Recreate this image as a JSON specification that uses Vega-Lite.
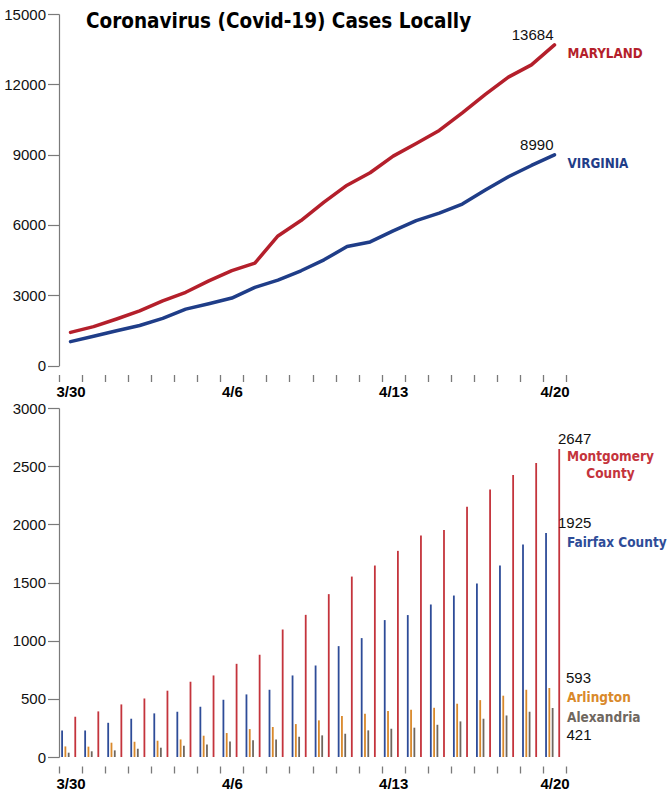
{
  "$schema": "https://vega.github.io/schema/vega-lite/v6.json",
  "background": "white",
  "padding": {"left": 3, "top": 7, "right": 0, "bottom": 0},
  "spacing": 42,
  "bounds": "flush",
  "resolve": {"scale": {"color": "independent"}},
  "config": {
    "view": {"stroke": null},
    "font": "Liberation Sans",
    "axis": {"domainColor": "#7a7a7a", "tickColor": "#7a7a7a", "labelColor": "#111111", "grid": false}
  },
  "datasets": {
    "states": [
      {"date": "3/30", "state": "Maryland", "cases": 1413}, {"date": "3/31", "state": "Maryland", "cases": 1660},
      {"date": "4/1", "state": "Maryland", "cases": 1985}, {"date": "4/2", "state": "Maryland", "cases": 2331},
      {"date": "4/3", "state": "Maryland", "cases": 2758}, {"date": "4/4", "state": "Maryland", "cases": 3125},
      {"date": "4/5", "state": "Maryland", "cases": 3609}, {"date": "4/6", "state": "Maryland", "cases": 4045},
      {"date": "4/7", "state": "Maryland", "cases": 4371}, {"date": "4/8", "state": "Maryland", "cases": 5529},
      {"date": "4/9", "state": "Maryland", "cases": 6185}, {"date": "4/10", "state": "Maryland", "cases": 6968},
      {"date": "4/11", "state": "Maryland", "cases": 7694}, {"date": "4/12", "state": "Maryland", "cases": 8225},
      {"date": "4/13", "state": "Maryland", "cases": 8936}, {"date": "4/14", "state": "Maryland", "cases": 9472},
      {"date": "4/15", "state": "Maryland", "cases": 10032}, {"date": "4/16", "state": "Maryland", "cases": 10784},
      {"date": "4/17", "state": "Maryland", "cases": 11572}, {"date": "4/18", "state": "Maryland", "cases": 12308},
      {"date": "4/19", "state": "Maryland", "cases": 12830}, {"date": "4/20", "state": "Maryland", "cases": 13684},
      {"date": "3/30", "state": "Virginia", "cases": 1020}, {"date": "3/31", "state": "Virginia", "cases": 1250},
      {"date": "4/1", "state": "Virginia", "cases": 1484}, {"date": "4/2", "state": "Virginia", "cases": 1706},
      {"date": "4/3", "state": "Virginia", "cases": 2012}, {"date": "4/4", "state": "Virginia", "cases": 2407},
      {"date": "4/5", "state": "Virginia", "cases": 2637}, {"date": "4/6", "state": "Virginia", "cases": 2878},
      {"date": "4/7", "state": "Virginia", "cases": 3333}, {"date": "4/8", "state": "Virginia", "cases": 3645},
      {"date": "4/9", "state": "Virginia", "cases": 4042}, {"date": "4/10", "state": "Virginia", "cases": 4509},
      {"date": "4/11", "state": "Virginia", "cases": 5077}, {"date": "4/12", "state": "Virginia", "cases": 5274},
      {"date": "4/13", "state": "Virginia", "cases": 5747}, {"date": "4/14", "state": "Virginia", "cases": 6182},
      {"date": "4/15", "state": "Virginia", "cases": 6500}, {"date": "4/16", "state": "Virginia", "cases": 6889},
      {"date": "4/17", "state": "Virginia", "cases": 7491}, {"date": "4/18", "state": "Virginia", "cases": 8053},
      {"date": "4/19", "state": "Virginia", "cases": 8537}, {"date": "4/20", "state": "Virginia", "cases": 8990}
    ],
    "stateLabels": [
      {"date": "4/20", "state": "Maryland", "cases": 13684, "label": "MARYLAND"},
      {"date": "4/20", "state": "Virginia", "cases": 8990, "label": "VIRGINIA"}
    ],
    "counties": [
      {"date": "3/30", "county": "Fairfax County", "cases": 228}, {"date": "3/30", "county": "Arlington", "cases": 91}, {"date": "3/30", "county": "Alexandria", "cases": 37}, {"date": "3/30", "county": "Montgomery County", "cases": 346},
      {"date": "3/31", "county": "Fairfax County", "cases": 228}, {"date": "3/31", "county": "Arlington", "cases": 89}, {"date": "3/31", "county": "Alexandria", "cases": 49}, {"date": "3/31", "county": "Montgomery County", "cases": 392},
      {"date": "4/1", "county": "Fairfax County", "cases": 294}, {"date": "4/1", "county": "Arlington", "cases": 123}, {"date": "4/1", "county": "Alexandria", "cases": 57}, {"date": "4/1", "county": "Montgomery County", "cases": 452},
      {"date": "4/2", "county": "Fairfax County", "cases": 329}, {"date": "4/2", "county": "Arlington", "cases": 131}, {"date": "4/2", "county": "Alexandria", "cases": 71}, {"date": "4/2", "county": "Montgomery County", "cases": 503},
      {"date": "4/3", "county": "Fairfax County", "cases": 375}, {"date": "4/3", "county": "Arlington", "cases": 140}, {"date": "4/3", "county": "Alexandria", "cases": 80}, {"date": "4/3", "county": "Montgomery County", "cases": 570},
      {"date": "4/4", "county": "Fairfax County", "cases": 389}, {"date": "4/4", "county": "Arlington", "cases": 151}, {"date": "4/4", "county": "Alexandria", "cases": 97}, {"date": "4/4", "county": "Montgomery County", "cases": 647},
      {"date": "4/5", "county": "Fairfax County", "cases": 432}, {"date": "4/5", "county": "Arlington", "cases": 183}, {"date": "4/5", "county": "Alexandria", "cases": 108}, {"date": "4/5", "county": "Montgomery County", "cases": 701},
      {"date": "4/6", "county": "Fairfax County", "cases": 492}, {"date": "4/6", "county": "Arlington", "cases": 206}, {"date": "4/6", "county": "Alexandria", "cases": 134}, {"date": "4/6", "county": "Montgomery County", "cases": 801},
      {"date": "4/7", "county": "Fairfax County", "cases": 538}, {"date": "4/7", "county": "Arlington", "cases": 240}, {"date": "4/7", "county": "Alexandria", "cases": 143}, {"date": "4/7", "county": "Montgomery County", "cases": 879},
      {"date": "4/8", "county": "Fairfax County", "cases": 578}, {"date": "4/8", "county": "Arlington", "cases": 258}, {"date": "4/8", "county": "Alexandria", "cases": 151}, {"date": "4/8", "county": "Montgomery County", "cases": 1096},
      {"date": "4/9", "county": "Fairfax County", "cases": 701}, {"date": "4/9", "county": "Arlington", "cases": 283}, {"date": "4/9", "county": "Alexandria", "cases": 174}, {"date": "4/9", "county": "Montgomery County", "cases": 1222},
      {"date": "4/10", "county": "Fairfax County", "cases": 787}, {"date": "4/10", "county": "Arlington", "cases": 315}, {"date": "4/10", "county": "Alexandria", "cases": 186}, {"date": "4/10", "county": "Montgomery County", "cases": 1400},
      {"date": "4/11", "county": "Fairfax County", "cases": 953}, {"date": "4/11", "county": "Arlington", "cases": 352}, {"date": "4/11", "county": "Alexandria", "cases": 200}, {"date": "4/11", "county": "Montgomery County", "cases": 1551},
      {"date": "4/12", "county": "Fairfax County", "cases": 1022}, {"date": "4/12", "county": "Arlington", "cases": 372}, {"date": "4/12", "county": "Alexandria", "cases": 229}, {"date": "4/12", "county": "Montgomery County", "cases": 1646},
      {"date": "4/13", "county": "Fairfax County", "cases": 1177}, {"date": "4/13", "county": "Arlington", "cases": 395}, {"date": "4/13", "county": "Alexandria", "cases": 243}, {"date": "4/13", "county": "Montgomery County", "cases": 1772},
      {"date": "4/14", "county": "Fairfax County", "cases": 1220}, {"date": "4/14", "county": "Arlington", "cases": 406}, {"date": "4/14", "county": "Alexandria", "cases": 252}, {"date": "4/14", "county": "Montgomery County", "cases": 1903},
      {"date": "4/15", "county": "Fairfax County", "cases": 1311}, {"date": "4/15", "county": "Arlington", "cases": 423}, {"date": "4/15", "county": "Alexandria", "cases": 277}, {"date": "4/15", "county": "Montgomery County", "cases": 1952},
      {"date": "4/16", "county": "Fairfax County", "cases": 1388}, {"date": "4/16", "county": "Arlington", "cases": 458}, {"date": "4/16", "county": "Alexandria", "cases": 306}, {"date": "4/16", "county": "Montgomery County", "cases": 2152},
      {"date": "4/17", "county": "Fairfax County", "cases": 1491}, {"date": "4/17", "county": "Arlington", "cases": 489}, {"date": "4/17", "county": "Alexandria", "cases": 329}, {"date": "4/17", "county": "Montgomery County", "cases": 2299},
      {"date": "4/18", "county": "Fairfax County", "cases": 1646}, {"date": "4/18", "county": "Arlington", "cases": 527}, {"date": "4/18", "county": "Alexandria", "cases": 357}, {"date": "4/18", "county": "Montgomery County", "cases": 2425},
      {"date": "4/19", "county": "Fairfax County", "cases": 1826}, {"date": "4/19", "county": "Arlington", "cases": 578}, {"date": "4/19", "county": "Alexandria", "cases": 389}, {"date": "4/19", "county": "Montgomery County", "cases": 2528},
      {"date": "4/20", "county": "Fairfax County", "cases": 1925}, {"date": "4/20", "county": "Arlington", "cases": 593}, {"date": "4/20", "county": "Alexandria", "cases": 421}, {"date": "4/20", "county": "Montgomery County", "cases": 2647}
    ],
    "countyLabels": [
      {"date": "4/20", "county": "Montgomery County", "cases": 2647, "label": "Montgomery\nCounty"},
      {"date": "4/20", "county": "Fairfax County", "cases": 1925, "label": "Fairfax County"},
      {"date": "4/20", "county": "Arlington", "cases": 593, "label": "Arlington"},
      {"date": "4/20", "county": "Alexandria", "cases": 421, "label": "Alexandria"}
    ]
  },
  "vconcat": [
    {
      "width": 507,
      "height": 351.5,
      "title": {
        "text": "Coronavirus (Covid-19) Cases Locally",
        "anchor": "start",
        "frame": "group",
        "orient": "top",
        "offset": -41.8,
        "dx": 27,
        "baseline": "alphabetic",
        "font": "DejaVu Sans Condensed",
        "fontWeight": "bold",
        "fontSize": 20.5,
        "color": "#000000"
      },
      "layer": [
        {
          "data": {"name": "states"},
          "mark": {"type": "line", "strokeWidth": 3.5, "strokeCap": "round", "strokeJoin": "round"},
          "encoding": {
            "x": {
              "field": "date", "type": "ordinal", "bandPosition": 0.5,
              "scale": {"type": "band", "domain": ["3/30","3/31","4/1","4/2","4/3","4/4","4/5","4/6","4/7","4/8","4/9","4/10","4/11","4/12","4/13","4/14","4/15","4/16","4/17","4/18","4/19","4/20"], "paddingInner": 0, "paddingOuter": 0},
              "axis": {"title": null, "domain": false, "tickBand": "extent", "tickSize": 7, "tickWidth": 1.3, "offset": 9, "labelAngle": 0, "labelOverlap": false, "labelFont": "Liberation Sans", "labelFontWeight": "bold", "labelFontSize": 15, "labelColor": "#000000", "labelPadding": 3, "labelExpr": "indexof(['3/30','4/6','4/13','4/20'], datum.value) >= 0 ? datum.value : ''"}
            },
            "y": {
              "field": "cases", "type": "quantitative",
              "scale": {"domain": [0, 15000], "nice": false},
              "axis": {"title": null, "values": [0, 3000, 6000, 9000, 12000, 15000], "format": "d", "tickSize": 11.5, "tickWidth": 1.2, "domainWidth": 1.2, "labelPadding": 2, "labelFontSize": 15, "labelFlush": false, "labelOverlap": false}
            },
            "color": {"field": "state", "type": "nominal", "scale": {"domain": ["Maryland", "Virginia"], "range": ["#b41f2b", "#1f3d88"]}, "legend": null}
          }
        },
        {
          "data": {"name": "stateLabels"},
          "mark": {"type": "text", "align": "right", "baseline": "alphabetic", "dx": -1, "dy": -4.5, "fontSize": 15, "color": "#111111"},
          "encoding": {
            "x": {"field": "date", "type": "ordinal", "bandPosition": 0.5},
            "y": {"field": "cases", "type": "quantitative"},
            "text": {"field": "cases", "type": "quantitative", "format": "d"}
          }
        },
        {
          "data": {"name": "stateLabels"},
          "mark": {"type": "text", "align": "left", "baseline": "alphabetic", "dx": 13, "dy": 13, "font": "DejaVu Sans Condensed", "fontWeight": "bold", "fontSize": 13.3},
          "encoding": {
            "x": {"field": "date", "type": "ordinal", "bandPosition": 0.5},
            "y": {"field": "cases", "type": "quantitative"},
            "text": {"field": "label", "type": "nominal"},
            "color": {"field": "state", "type": "nominal", "legend": null}
          }
        }
      ]
    },
    {
      "width": 507,
      "height": 349,
      "layer": [
        {
          "data": {"name": "counties"},
          "mark": {"type": "bar", "width": 1.8},
          "encoding": {
            "x": {
              "field": "date", "type": "ordinal",
              "scale": {"type": "band", "domain": ["3/30","3/31","4/1","4/2","4/3","4/4","4/5","4/6","4/7","4/8","4/9","4/10","4/11","4/12","4/13","4/14","4/15","4/16","4/17","4/18","4/19","4/20"], "paddingInner": 0, "paddingOuter": 0},
              "axis": {"title": null, "domain": false, "tickBand": "extent", "tickSize": 7, "tickWidth": 1.3, "offset": 9, "labelAngle": 0, "labelOverlap": false, "labelFont": "Liberation Sans", "labelFontWeight": "bold", "labelFontSize": 15, "labelColor": "#000000", "labelPadding": 3, "labelExpr": "indexof(['3/30','4/6','4/13','4/20'], datum.value) >= 0 ? datum.value : ''"}
            },
            "xOffset": {
              "field": "county", "type": "nominal",
              "scale": {"domain": ["Fairfax County", "Arlington", "Alexandria", "gap", "Montgomery County"], "paddingInner": 0, "paddingOuter": 2.44, "align": 0.22}
            },
            "y": {
              "field": "cases", "type": "quantitative",
              "scale": {"domain": [0, 3000], "nice": false},
              "axis": {"title": null, "values": [0, 500, 1000, 1500, 2000, 2500, 3000], "format": "d", "tickSize": 11.5, "tickWidth": 1.2, "domainWidth": 1.2, "labelPadding": 2, "labelFontSize": 15, "labelFlush": false, "labelOverlap": false}
            },
            "color": {"field": "county", "type": "nominal", "scale": {"domain": ["Fairfax County", "Arlington", "Alexandria", "Montgomery County"], "range": ["#2e4c98", "#d9892b", "#6f675f", "#c4343c"]}, "legend": null}
          }
        },
        {
          "data": {"name": "countyLabels"},
          "transform": [{"filter": "datum.county === 'Montgomery County' || datum.county === 'Fairfax County'"}],
          "mark": {"type": "text", "align": "left", "baseline": "alphabetic", "dx": 3.5, "dy": -5, "fontSize": 15, "color": "#111111"},
          "encoding": {
            "x": {"field": "date", "type": "ordinal", "bandPosition": 0.5},
            "y": {"field": "cases", "type": "quantitative"},
            "text": {"field": "cases", "type": "quantitative", "format": "d"}
          }
        },
        {
          "data": {"name": "countyLabels"},
          "transform": [{"filter": "datum.county === 'Arlington'"}],
          "mark": {"type": "text", "align": "left", "baseline": "alphabetic", "dx": 11.5, "dy": -5.5, "fontSize": 15, "color": "#111111"},
          "encoding": {
            "x": {"field": "date", "type": "ordinal", "bandPosition": 0.5},
            "y": {"field": "cases", "type": "quantitative"},
            "text": {"field": "cases", "type": "quantitative", "format": "d"}
          }
        },
        {
          "data": {"name": "countyLabels"},
          "transform": [{"filter": "datum.county === 'Alexandria'"}],
          "mark": {"type": "text", "align": "left", "baseline": "alphabetic", "dx": 12, "dy": 31.5, "fontSize": 15, "color": "#111111"},
          "encoding": {
            "x": {"field": "date", "type": "ordinal", "bandPosition": 0.5},
            "y": {"field": "cases", "type": "quantitative"},
            "text": {"field": "cases", "type": "quantitative", "format": "d"}
          }
        },
        {
          "data": {"name": "countyLabels"},
          "transform": [{"filter": "datum.county === 'Montgomery County'"}],
          "mark": {"type": "text", "align": "center", "baseline": "alphabetic", "dx": 56, "dy": 12.3, "lineBreak": "\n", "lineHeight": 17, "font": "DejaVu Sans Condensed", "fontWeight": "bold", "fontSize": 13.5},
          "encoding": {
            "x": {"field": "date", "type": "ordinal", "bandPosition": 0.5},
            "y": {"field": "cases", "type": "quantitative"},
            "text": {"field": "label", "type": "nominal"},
            "color": {"field": "county", "type": "nominal", "legend": null}
          }
        },
        {
          "data": {"name": "countyLabels"},
          "transform": [{"filter": "datum.county !== 'Montgomery County'"}],
          "mark": {"type": "text", "align": "left", "baseline": "alphabetic", "dx": 12.5, "dy": 13.8, "font": "DejaVu Sans Condensed", "fontWeight": "bold", "fontSize": 13.5},
          "encoding": {
            "x": {"field": "date", "type": "ordinal", "bandPosition": 0.5},
            "y": {"field": "cases", "type": "quantitative"},
            "text": {"field": "label", "type": "nominal"},
            "color": {"field": "county", "type": "nominal", "legend": null}
          }
        }
      ]
    }
  ]
}
